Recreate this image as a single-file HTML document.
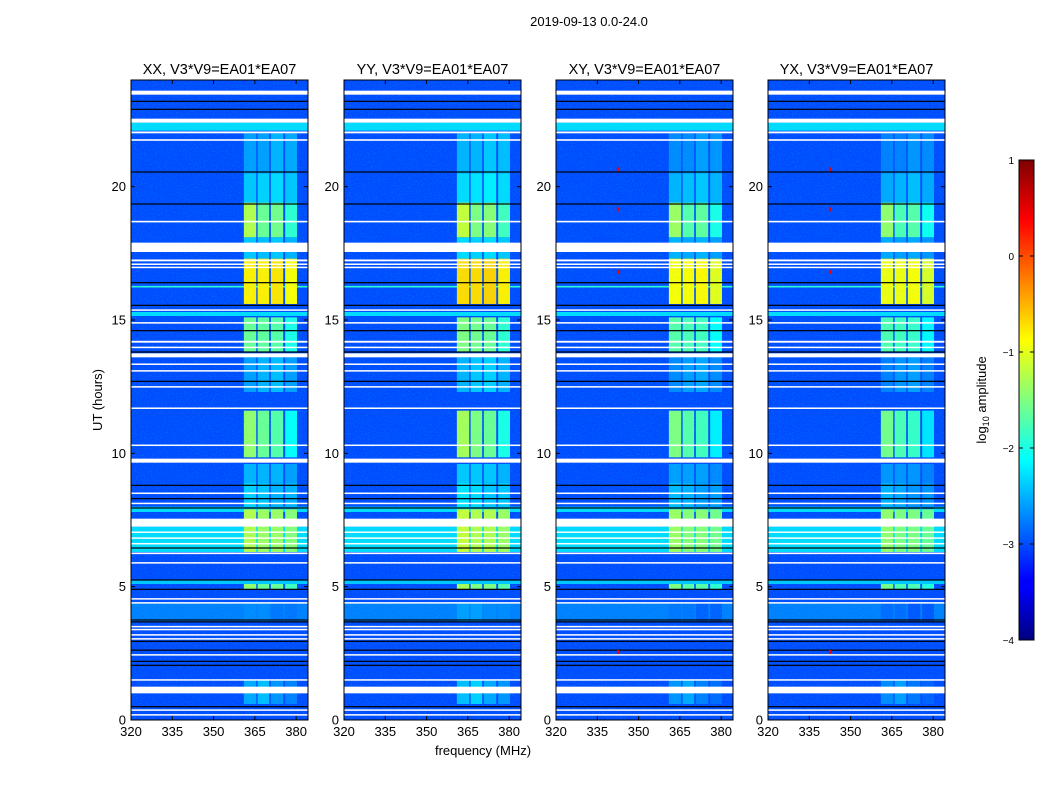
<!DOCTYPE html>
<html><head><meta charset="utf-8"><style>
body{margin:0;background:#fff;font-family:"Liberation Sans",sans-serif}
svg text{font-family:"Liberation Sans",sans-serif}
</style></head><body>
<svg id="fig" width="1050" height="800" xmlns="http://www.w3.org/2000/svg">
<defs>
<filter id="noise" x="0" y="0" width="100%" height="100%">
<feTurbulence type="fractalNoise" baseFrequency="0.9" numOctaves="1" seed="3" result="n"/>
<feColorMatrix type="matrix" values="0 0 0 0 0  0 0 0 0 0.75  0 0 0 0 1  0 0 0 2.4 -1.3"/>
</filter>
<linearGradient id="jet" x1="0" y1="1" x2="0" y2="0">
<stop offset="0" stop-color="#00007f"/><stop offset="0.11" stop-color="#0000ff"/>
<stop offset="0.125" stop-color="#0000ff"/><stop offset="0.375" stop-color="#00ffff"/>
<stop offset="0.625" stop-color="#ffff00"/><stop offset="0.875" stop-color="#ff0000"/>
<stop offset="1" stop-color="#7f0000"/>
</linearGradient>
</defs>
<text x="589" y="26" font-size="13" text-anchor="middle">2019-09-13 0.0-24.0</text>
<text x="483" y="755" font-size="13" text-anchor="middle">frequency (MHz)</text>
<text transform="translate(102,400) rotate(-90)" font-size="13" text-anchor="middle">UT (hours)</text>
<g id="panels"></g>
<g>
<rect x="1019" y="160" width="15" height="480" fill="url(#jet)" stroke="#000" stroke-width="1"/>
<g id="cbticks"></g>
<text transform="translate(986,400) rotate(-90)" font-size="13" text-anchor="middle">log<tspan font-size="9" dy="3">10</tspan><tspan dy="-3"> amplitude</tspan></text>
</g>
</svg>
<script>
// ---- data ----
const panelTitles = ["XX, V3*V9=EA01*EA07","YY, V3*V9=EA01*EA07","XY, V3*V9=EA01*EA07","YX, V3*V9=EA01*EA07"];
const panelGain = [0, 0.1, -0.1, -0.15];
const xTicks = [320,335,350,365,380];
const yTicks = [0,5,10,15,20];
const cbTicks = [1,0,-1,-2,-3,-4];
const bandFreqs = [[361,365.5],[366,370.2],[370.8,375.3],[376,380.3]];
const backgroundLevel = -3.0;
// broadband rows [t0, t1, level]
const broadRows = [[22.1,22.4,-2.3],[16.22,16.28,-1.9],[15.15,15.3,-2.3],[7.8,8.0,-2.3],[6.3,7.25,-2.3],[5.1,5.25,-2.4],[3.7,4.4,-2.75]];
// rfi segments [t0, t1, level band1..band4]
const rfiSegs = [
 [20.5,22.0,-2.6,-2.6,-2.5,-2.55],
 [19.4,20.5,-2.4,-2.35,-2.3,-2.4],
 [18.1,19.4,-1.25,-1.6,-1.55,-1.9],
 [17.3,18.1,-2.4,-2.45,-2.4,-2.5],
 [15.6,17.3,-0.8,-0.8,-0.75,-0.9],
 [13.8,15.1,-1.6,-1.65,-1.7,-2.0],
 [12.3,13.6,-2.6,-2.5,-2.45,-2.6],
 [9.85,11.6,-1.4,-1.6,-1.7,-2.1],
 [8.9,9.6,-2.5,-2.5,-2.5,-2.6],
 [7.9,8.9,-2.35,-2.4,-2.5,-2.5],
 [6.3,7.9,-1.25,-1.35,-1.35,-1.45],
 [4.9,5.1,-1.4,-1.6,-1.6,-1.8],
 [3.7,4.4,-2.7,-2.7,-2.8,-2.8],
 [0.6,1.5,-2.55,-2.45,-2.65,-2.75]
];
// flagged (white) rows [t0, t1]
const flags = [[23.45,23.6],[22.4,22.55],[22.0,22.07],[21.72,21.78],[18.66,18.72],[17.55,17.9],[17.2,17.27],[17.07,17.12],[16.95,17.0],[15.35,15.4],[14.87,14.92],[14.15,14.22],[13.95,14.0],[13.6,13.75],[13.32,13.37],[13.07,13.12],[12.47,12.52],[11.68,11.72],[10.28,10.33],[9.65,9.8],[8.48,8.53],[8.1,8.15],[7.25,7.55],[7.02,7.07],[6.8,6.85],[6.6,6.64],[6.22,6.28],[5.87,5.92],[4.52,4.57],[4.38,4.42],[3.48,3.53],[3.37,3.42],[3.17,3.22],[3.02,3.07],[2.42,2.47],[1.48,1.53],[1.0,1.25],[0.35,0.4],[0.17,0.22]];
// black lines (hours)
const blackLines = [23.2,22.9,20.55,19.35,16.4,15.55,14.6,13.8,12.7,8.8,8.3,7.95,6.45,5.25,4.9,3.75,3.68,2.95,2.62,2.2,2.05,0.5];
// bright RFI dots (XY/YX) [freq, hour]
const dots = [[342.5,20.65],[342.5,19.15],[342.5,16.8],[342.5,2.55]];

// ---- helpers ----
const NS="http://www.w3.org/2000/svg";
function jet(v){let t=(v+4)/5;t=Math.max(0,Math.min(1,t));
 const c=x=>Math.round(255*Math.max(0,Math.min(1,x)));
 return `rgb(${c(1.5-Math.abs(4*t-3))},${c(1.5-Math.abs(4*t-2))},${c(1.5-Math.abs(4*t-1))})`;}
function mk(tag,attrs,parent){const e=document.createElementNS(NS,tag);for(const k in attrs)e.setAttribute(k,attrs[k]);parent.appendChild(e);return e;}
const lefts=[131,344,556,768], top0=80, W=177, H=640;
const fx=f=>(f-320)/64.3*W;
const hy=h=>(24-h)*H/24;
const root=document.getElementById('panels');
lefts.forEach((L,p)=>{
 const g=mk('g',{transform:`translate(${L},${top0})`},root);
 
 
 const bg=mk('rect',{x:0,y:0,width:W,height:H,fill:jet(backgroundLevel)},g);
 
 
 broadRows.forEach(r=>{const e=mk('rect',{x:0,y:hy(r[1]),width:W,height:hy(r[0])-hy(r[1]),fill:jet(r[2])},g);
  
  });
 rfiSegs.forEach(s=>{for(let b=0;b<4;b++){const e=mk('rect',{x:fx(bandFreqs[b][0]),y:hy(s[1]),width:fx(bandFreqs[b][1])-fx(bandFreqs[b][0]),height:hy(s[0])-hy(s[1]),fill:jet(s[2+b]+panelGain[p])},g);
  
  }});
 const nz=mk('rect',{x:0,y:0,width:W,height:H,fill:'#fff',filter:'url(#noise)',opacity:0.45},g);
 
 
 flags.forEach(r=>{const e=mk('rect',{x:0,y:hy(r[1]),width:W,height:Math.max(1.5,hy(r[0])-hy(r[1])),fill:'#fff'},g);
  
  });
 blackLines.forEach(h=>{const e=mk('rect',{x:0,y:hy(h)-0.6,width:W,height:1.2,fill:'#000'},g);
  
  });
 if(p>=2)dots.forEach(d=>{const e=mk('rect',{x:fx(d[0])-1,y:hy(d[1])-2,width:2,height:4,fill:'#e00'},g);
  
  });
 const fr=mk('rect',{x:0,y:0,width:W,height:H,fill:'none',stroke:'#000','stroke-width':1},g);
 
 
 const t=mk('text',{x:W/2,y:-6,'font-size':14.5,'text-anchor':'middle'},g);t.textContent=panelTitles[p];
 
 
 xTicks.forEach(v=>{const x=fx(v);
  mk('line',{x1:x,x2:x,y1:H,y2:H-4,stroke:'#000'},g);mk('line',{x1:x,x2:x,y1:0,y2:4,stroke:'#000'},g);
  const tx=mk('text',{x:x,y:H+16,'font-size':13,'text-anchor':'middle'},g);tx.textContent=v;
  
  });
 yTicks.forEach(v=>{const y=hy(v);
  mk('line',{x1:0,x2:4,y1:y,y2:y,stroke:'#000'},g);mk('line',{x1:W,x2:W-4,y1:y,y2:y,stroke:'#000'},g);
  const ty=mk('text',{x:-5,y:y+4.5,'font-size':13,'text-anchor':'end'},g);ty.textContent=v;
  
  });
});
const cb=document.getElementById('cbticks');
cbTicks.forEach(v=>{const y=160+(1-v)*96;
 mk('line',{x1:1019,x2:1023,y1:y,y2:y,stroke:'#000'},cb);mk('line',{x1:1030,x2:1034,y1:y,y2:y,stroke:'#000'},cb);
 const t=mk('text',{x:1014,y:y+4,'font-size':10,'text-anchor':'end'},cb);t.textContent=v<0?'\u2212'+(-v):v;
 
 });
</script>
</body></html>
